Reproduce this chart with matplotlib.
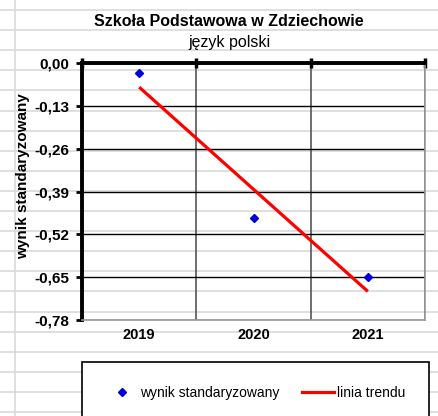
import matplotlib.pyplot as plt
import numpy as np
from matplotlib.lines import Line2D

plt.rcParams['font.family'] = ['Liberation Sans', 'DejaVu Sans']

# Data
years = ['2019', '2020', '2021']
scores = [-0.03, -0.47, -0.65]
y_ticks = [0.0, -0.13, -0.26, -0.39, -0.52, -0.65, -0.78]

title = 'Szkoła Podstawowa w Zdziechowie'
subtitle = 'język polski'
y_label = 'wynik standaryzowany'
legend_labels = ['wynik standaryzowany', 'linia trendu']


def main():
    W, H = 438, 416
    fig = plt.figure(figsize=(W / 100, H / 100), dpi=100)
    fig.patch.set_facecolor('white')

    # spreadsheet grid behind the chart
    bg = fig.add_axes([0, 0, 1, 1], zorder=-5)
    bg.set_xlim(0, W)
    bg.set_ylim(H, 0)
    bg.axis('off')
    for k in range(21):
        bg.axhline(10 + 20.1 * k, color='#d9d9d9', lw=1.2)
    bg.axvline(15, color='#d9d9d9', lw=1.2)

    # plot area
    left, right, top, bottom = 82, 425, 63, 320
    ax = fig.add_axes([left / W, 1 - bottom / H, (right - left) / W, (bottom - top) / H])
    ax.patch.set_alpha(0)

    x = np.arange(1, len(years) + 1)
    ax.plot(x, scores, linestyle='none', marker='D', markersize=4.5,
            color='#0000dd', zorder=5)

    # linear trend line
    a, b = np.polyfit(x, scores, 1)
    ax.plot(x, a * x + b, color='#ff0000', lw=2.3, solid_capstyle='butt', zorder=4)

    ax.set_xlim(0.5, len(years) + 0.5)
    ax.set_ylim(y_ticks[-1], y_ticks[0])

    ax.set_yticks(y_ticks)
    ax.set_yticklabels([f"{abs(v) if v == 0 else v:.2f}".replace('.', ',') for v in y_ticks],
                       fontsize=11, fontweight='bold')
    ax.tick_params(axis='y', direction='out', length=4, width=2, color='black', pad=5)

    ax.set_xticks(x)
    ax.set_xticklabels(years, fontsize=10.5, fontweight='bold')
    ax.tick_params(axis='x', which='major', length=0, pad=6)
    ax.set_xticks(np.arange(0.5, len(years) + 1, 1.0), minor=True)
    ax.tick_params(axis='x', which='minor', top=True, bottom=False,
                   direction='inout', length=7, width=2.5, color='black')

    ax.grid(axis='y', which='major', color='black', lw=1)
    ax.grid(axis='x', which='minor', color='#555555', lw=1.2)

    for side in ['left', 'top']:
        ax.spines[side].set_linewidth(2.8)
        ax.spines[side].set_color('black')
    for side in ['right', 'bottom']:
        ax.spines[side].set_linewidth(1.2)
        ax.spines[side].set_color('#999999')

    fig.text(229 / W, 1 - 22 / H, title, ha='center', va='center',
             fontsize=11.5, fontweight='bold')
    fig.text(229 / W, 1 - 43 / H, subtitle, ha='center', va='center', fontsize=11.5)
    fig.text(23 / W, 1 - 176 / H, y_label, ha='center', va='center', rotation=90,
             fontsize=11, fontweight='bold')

    handles = [
        Line2D([], [], linestyle='none', marker='D', markersize=4.5, color='#0000dd'),
        Line2D([], [], color='#ff0000', lw=2.3),
    ]
    leg = fig.legend(handles, legend_labels, loc='upper left',
                     bbox_to_anchor=(82 / W, 1 - 362 / H), ncol=2, fontsize=10,
                     frameon=True, fancybox=False, framealpha=1, edgecolor='black',
                     borderpad=1.7, handlelength=2.3, handletextpad=0.2,
                     columnspacing=1.6, borderaxespad=0)
    leg.get_frame().set_linewidth(1.2)

    fig.savefig('out.png', dpi=100)


if __name__ == "__main__":
    main()
